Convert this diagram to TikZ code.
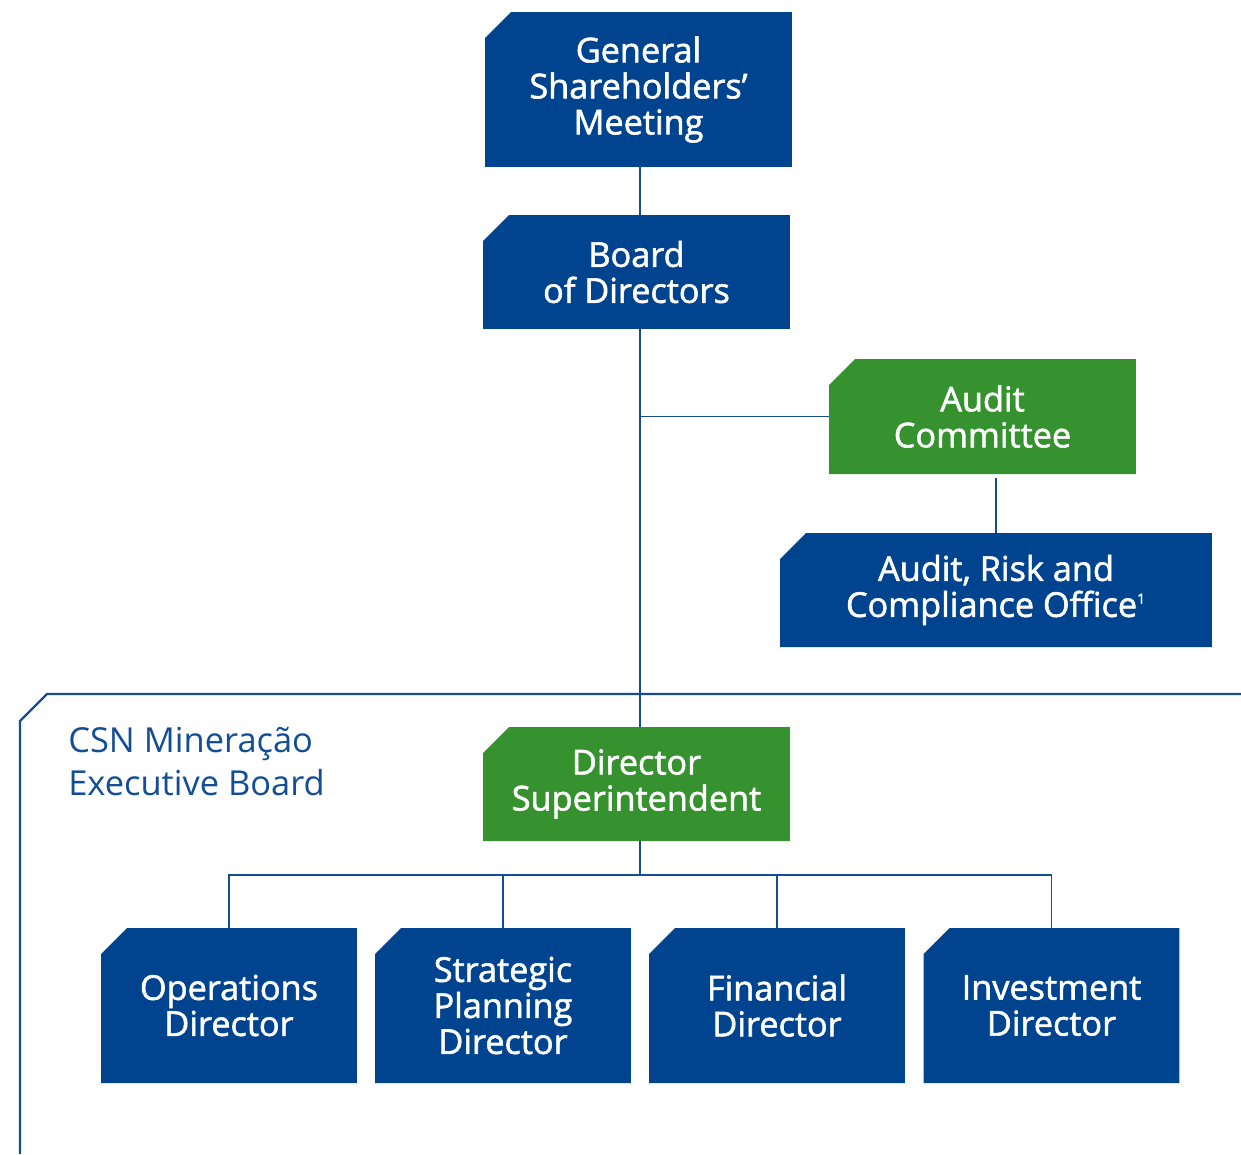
\documentclass[tikz,border=0pt]{standalone}
\usepackage{fontspec}
\setmainfont{Open Sans}
\newfontfamily\boxfont{Open Sans}[FakeBold=1.6]
\definecolor{csnblue}{RGB}{0,67,143}
\definecolor{csngreen}{RGB}{54,146,47}
\definecolor{linkblue}{RGB}{18,78,150}
\begin{document}
\begin{tikzpicture}[x=0.02cm,y=-0.02cm,
  unit box/.style={rectangle, inner sep=0pt, align=center, text=white,
    font=\boxfont\fontsize{19.5}{20.5}\selectfont,
    path picture={\fill[#1]
      (path picture bounding box.south west)
      -- ([yshift=-0.52cm]path picture bounding box.north west)
      -- ([xshift=0.52cm]path picture bounding box.north west)
      -- (path picture bounding box.north east)
      -- (path picture bounding box.south east) -- cycle;}},
  bluebox/.style={unit box=csnblue},
  greenbox/.style={unit box=csngreen},
  link/.style={draw=linkblue, line width=1.1pt},
  frame/.style={draw=linkblue, line width=1.3pt}]

\useasboundingbox (0,0) rectangle (1241,1154);

% governance chain
\node[bluebox, minimum width=6.14cm, minimum height=3.10cm] (gsm) at (638.5,89.5)
  {General\\Shareholders’\\Meeting};
\node[bluebox, minimum width=6.14cm, minimum height=2.28cm] (bod) at (636.5,272)
  {Board\\of Directors};
\node[greenbox, minimum width=6.14cm, minimum height=2.30cm] (audit) at (982.5,416.5)
  {Audit\\Committee};
\node[bluebox, minimum width=8.64cm, minimum height=2.28cm] (arc) at (996,590)
  {Audit, Risk and\\Compliance Office\textsuperscript{\footnotesize 1}};

% executive board
\node[greenbox, minimum width=6.14cm, minimum height=2.28cm] (sup) at (636.5,784)
  {Director\\Superintendent};
\node[bluebox, minimum width=5.12cm, minimum height=3.10cm] (ops) at (229,1005.5)
  {Operations\\Director};
\node[bluebox, minimum width=5.12cm, minimum height=3.10cm] (strat) at (503,1005.5)
  {Strategic\\Planning\\Director};
\node[bluebox, minimum width=5.12cm, minimum height=3.10cm] (fin) at (777,1005.5)
  {Financial\\Director};
\node[bluebox, minimum width=5.12cm, minimum height=3.10cm] (inv) at (1051.5,1005.5)
  {Investment\\Director};

\node[anchor=north west, inner sep=0pt, align=left, text=linkblue,
  font=\fontsize{19.6}{24.5}\selectfont] (label) at (68,727)
  {CSN Mineração\\Executive Board};

% connectors
\coordinate (trunk) at (640,0);
\coordinate (bus) at (0,875);
\draw[link] (gsm.south -| trunk) -- (bod.north -| trunk);
\draw[link] (bod.south -| trunk) -- (sup.north -| trunk);
\draw[link] (trunk |- audit.west) -- (audit.west);
\draw[link] ([yshift=-0.08cm]audit.south -| arc.north) -- (arc.north);
\draw[link] (sup.south -| trunk) -- (trunk |- bus);
\draw[link] (ops.north) -- (ops.north |- bus) -- (inv.north |- bus) -- (inv.north);
\draw[link] (strat.north) -- (strat.north |- bus);
\draw[link] (fin.north) -- (fin.north |- bus);

% executive board frame
\coordinate (fr) at (1241,694);
\coordinate (fc1) at (47,694);
\coordinate (fc2) at (20,721);
\coordinate (fb) at (20,1154);
\draw[frame] (fr) -- (fc1) -- (fc2) -- (fb);
\end{tikzpicture}
\end{document}
